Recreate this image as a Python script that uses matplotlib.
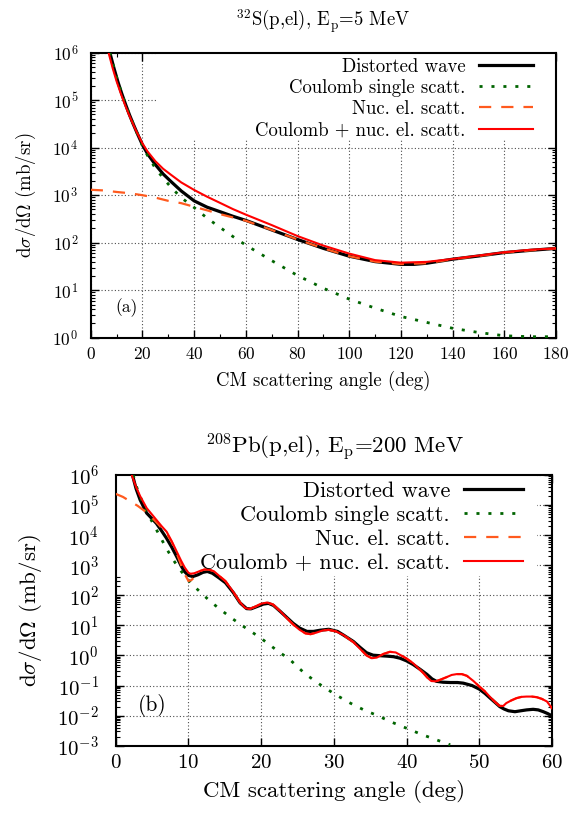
import matplotlib
matplotlib.use("Agg")
import matplotlib.pyplot as plt
import numpy as np
from matplotlib.patches import Rectangle
from matplotlib.ticker import LogLocator, NullFormatter, MultipleLocator, NullLocator

plt.rcParams["font.family"] = "cmr10"
plt.rcParams["mathtext.fontset"] = "cm"
plt.rcParams["axes.formatter.use_mathtext"] = True

# ---- 32S(p,el) at 5 MeV: angle (deg) and cross section (mb/sr) ----
s_dw_deg = [7.4, 9, 10.5, 12, 13.5, 15, 16.5, 18, 20, 22, 25, 28, 31, 35, 40, 45, 50, 55,
            60, 70, 80, 90, 100, 110, 120, 125, 130, 140, 150, 160, 170, 180]
s_dw = [1.0e6, 4.7e5, 2.45e5, 1.38e5, 8.1e4, 4.9e4, 3.1e4, 2.0e4, 1.15e4, 7.4e3, 4.4e3,
        2.8e3, 1.95e3, 1.23e3, 7.6e2, 5.6e2, 4.5e2, 3.6e2, 2.95e2, 1.86e2, 1.17e2, 7.6e1,
        5.2e1, 4.0e1, 3.5e1, 3.5e1, 3.7e1, 4.5e1, 5.25e1, 6.2e1, 6.9e1, 7.6e1]

s_coul_deg = [7.4, 9, 10.5, 12, 13.5, 15, 16.5, 18, 20, 22, 25, 28, 31, 35, 40, 45, 50, 55,
              60, 70, 80, 90, 100, 110, 120, 130, 140, 150, 160, 170, 180]
s_coul = [1.0e6, 4.7e5, 2.45e5, 1.38e5, 8.1e4, 4.9e4, 3.1e4, 2.0e4, 1.1e4, 6.8e3, 3.7e3,
          2.3e3, 1.48e3, 8.9e2, 5.5e2, 3.3e2, 2.1e2, 1.35e2, 8.9e1, 4.2e1, 2.04e1, 1.1e1,
          6.5e0, 4.2e0, 2.8e0, 2.1e0, 1.58e0, 1.29e0, 1.1e0, 1.05e0, 1.05e0]

s_nuc_deg = [0, 5, 10, 15, 20, 25, 30, 35, 40, 45, 50, 55, 60, 70, 80, 90, 100, 110, 120,
             130, 140, 150, 160, 170, 180]
s_nuc = [1.3e3, 1.26e3, 1.17e3, 1.1e3, 1.0e3, 8.9e2, 7.6e2, 6.8e2, 5.7e2, 4.8e2, 4.0e2,
         3.4e2, 2.9e2, 1.86e2, 1.17e2, 7.6e1, 5.2e1, 4.0e1, 3.55e1, 3.7e1, 4.5e1, 5.25e1,
         6.2e1, 6.9e1, 7.6e1]

s_tot_deg = [6.9, 8.5, 10, 11.5, 13, 14.5, 16, 17.5, 20, 22, 25, 28, 31, 35, 40, 45, 50,
             55, 60, 70, 80, 90, 100, 110, 120, 130, 140, 150, 160, 170, 180]
s_tot = [1.0e6, 4.7e5, 2.5e5, 1.45e5, 8.7e4, 5.4e4, 3.5e4, 2.3e4, 1.23e4, 8.3e3, 5.2e3,
         3.6e3, 2.7e3, 1.86e3, 1.29e3, 9.3e2, 6.9e2, 5.1e2, 3.9e2, 2.35e2, 1.38e2, 8.7e1,
         5.9e1, 4.3e1, 3.8e1, 3.95e1, 4.55e1, 5.35e1, 6.3e1, 7.1e1, 7.6e1]

# ---- 208Pb(p,el) at 200 MeV ----
pb_dw_deg = [2.3, 2.8, 3.35, 4.26, 5.0, 5.6, 6.3, 7.0, 7.7, 8.4, 9.0, 9.5, 10.0, 10.6, 11.3,
             12.0, 12.6, 13.3, 14.2, 15.1, 16.2, 17.1, 18.0, 18.6, 19.4, 20.3, 21.0, 21.7,
             22.6, 23.5, 24.4, 25.3, 26.3, 27.2, 28.1, 29.3, 30.5, 31.3, 32.7, 33.6, 34.5,
             35.4, 36.4, 37.3, 38.2, 39.1, 40.0, 40.9, 41.9, 42.8, 43.5, 44.1, 45.0, 46.0,
             47.0, 47.8, 49.0, 50.0, 50.8, 51.5, 52.2, 52.8, 53.4, 54.0, 54.9, 55.7, 56.5,
             57.4, 58.1, 58.8, 59.4, 60.0]
pb_dw = [1.0e6, 3.5e5, 1.5e5, 5.4e4, 3.5e4, 2.45e4, 1.4e4, 7.8e3, 4.0e3, 1.9e3, 9.5e2,
         6.0e2, 4.6e2, 4.2e2, 4.8e2, 5.8e2, 6.2e2, 5.4e2, 3.8e2, 2.6e2, 1.2e2, 5.6e1, 3.6e1,
         3.55e1, 4.2e1, 5.1e1, 5.4e1, 4.6e1, 2.95e1, 1.86e1, 1.17e1, 8.1e0, 6.3e0, 6.3e0,
         6.9e0, 7.4e0, 6.3e0, 4.8e0, 2.9e0, 1.86e0, 1.23e0, 1.02e0, 9.8e-1, 9.5e-1, 9.1e-1,
         8.1e-1, 6.6e-1, 5.0e-1, 3.4e-1, 2.35e-1, 1.66e-1, 1.38e-1, 1.29e-1, 1.26e-1,
         1.26e-1, 1.2e-1, 1.0e-1, 7.6e-2, 5.4e-2, 3.8e-2, 2.7e-2, 2.0e-2, 1.66e-2, 1.45e-2,
         1.35e-2, 1.45e-2, 1.55e-2, 1.62e-2, 1.55e-2, 1.35e-2, 1.17e-2, 9.8e-3]

pb_coul_deg = [2.4, 3, 4, 5, 6, 7, 8, 9, 10, 11, 12, 13, 14, 15, 16, 17, 18, 19, 20, 22,
               24, 26, 28, 30, 32, 34, 36, 38, 40, 42, 44, 46]
pb_coul = [1.0e6, 3.2e5, 8.0e4, 2.8e4, 1.0e4, 3.5e3, 1.4e3, 6.3e2, 3.2e2, 1.78e2, 1.05e2,
           6.3e1, 4.0e1, 2.6e1, 1.7e1, 1.15e1, 7.8e0, 5.4e0, 3.7e0, 1.58e0, 7.1e-1,
           2.5e-1, 1.12e-1, 5.4e-2, 2.8e-2, 1.6e-2, 1.0e-2, 6.0e-3, 3.8e-3, 2.4e-3,
           1.6e-3, 1.07e-3]

pb_tot_deg = [2.2, 2.8, 3.35, 4.26, 5.0, 5.6, 6.3, 7.0, 7.7, 8.4, 9.0, 9.5, 10.0, 10.3,
              10.8, 11.5, 12.2, 12.8, 13.5, 14.2, 15.1, 16.2, 17.1, 17.8, 18.4, 19.2, 20.0,
              20.8, 21.6, 22.6, 23.5, 24.4, 25.3, 26.1, 26.8, 27.6, 28.5, 29.3, 30.3, 31.3,
              32.7, 33.6, 34.5, 35.2, 35.9, 36.8, 37.7, 38.5, 39.1, 40.0, 40.9, 41.6, 42.3,
              42.9, 43.4, 44.0, 44.6, 45.5, 46.2, 46.9, 47.6, 48.3, 49.2, 50.0, 50.8, 51.5,
              52.2, 52.8, 53.3, 53.7, 54.4, 55.1, 55.8, 56.5, 57.2, 57.9, 58.6, 59.3, 60.0]
pb_tot = [1.0e6, 4.0e5, 2.0e5, 7.9e4, 4.8e4, 3.2e4, 2.0e4, 1.3e4, 6.3e3, 2.8e3, 1.4e3,
          8.3e2, 5.6e2, 5.2e2, 5.4e2, 6.3e2, 7.2e2, 7.2e2, 6.3e2, 4.5e2, 2.95e2, 1.26e2,
          5.8e1, 3.8e1, 3.5e1, 4.2e1, 5.25e1, 5.75e1, 5.0e1, 3.0e1, 1.78e1, 1.07e1, 7.1e0,
          5.4e0, 5.1e0, 5.75e0, 6.8e0, 7.1e0, 6.3e0, 4.8e0, 2.75e0, 1.66e0, 1.0e0,
          8.1e-1, 8.5e-1, 1.12e0, 1.32e0, 1.26e0, 1.05e0, 7.9e-1, 5.5e-1, 3.8e-1, 2.6e-1,
          1.78e-1, 1.41e-1, 1.38e-1, 1.55e-1, 1.9e-1, 2.25e-1, 2.4e-1, 2.4e-1, 2.1e-1,
          1.41e-1, 9.3e-2, 6.3e-2, 4.1e-2, 2.8e-2, 2.1e-2, 2.1e-2, 2.6e-2, 3.2e-2, 3.8e-2,
          4.2e-2, 4.3e-2, 4.3e-2, 4.1e-2, 3.6e-2, 2.95e-2, 1.74e-2]

# nuclear part at small angles, beyond ~11 deg it runs under the full curve
pb_nuc_small_deg = [0, 1, 2, 3, 4, 5, 6, 7, 7.7, 8.4, 9.0, 9.5, 10.0, 10.4, 10.9]
pb_nuc_small = [2.35e5, 1.86e5, 1.32e5, 9.5e4, 6.3e4, 3.8e4, 2.1e4, 1.12e4, 6.0e3, 2.5e3,
                1.0e3, 5.0e2, 3.0e2, 3.2e2, 4.2e2]
pb_nuc_deg = pb_nuc_small_deg + [d for d in pb_tot_deg if d > 11]
pb_nuc = pb_nuc_small + [v for d, v in zip(pb_tot_deg, pb_tot) if d > 11]

labels = ["Distorted wave", "Coulomb single scatt.", "Nuc. el. scatt.",
          "Coulomb + nuc. el. scatt."]
GREEN = "#006400"
ORANGE = "#ff5a1e"
RED = "#ff0000"

fig = plt.figure(figsize=(5.72, 8.14), dpi=100)
ax1 = fig.add_axes([0.1586, 0.5851, 0.8135, 0.3502])
ax2 = fig.add_axes([0.2023, 0.0839, 0.7628, 0.3326])


def style_axes(ax, fs, xmax, xstep, xminor, ymin, ymax, ypad):
    ax.set_yscale("log")
    ax.set_xlim(0, xmax)
    ax.set_ylim(ymin, ymax)
    ax.xaxis.set_major_locator(MultipleLocator(xstep))
    if xminor:
        ax.xaxis.set_minor_locator(MultipleLocator(xminor))
    else:
        ax.xaxis.set_minor_locator(NullLocator())
    ax.yaxis.set_major_locator(LogLocator(base=10, numticks=30))
    ax.yaxis.set_minor_locator(LogLocator(base=10, subs=np.arange(2, 10), numticks=30))
    ax.yaxis.set_minor_formatter(NullFormatter())
    ax.tick_params(which="both", direction="in", top=True, right=True, labelsize=fs)
    ax.tick_params(which="major", length=6, width=1)
    ax.tick_params(axis="y", which="major", pad=ypad)
    ax.tick_params(axis="x", which="major", pad=6)
    ax.tick_params(which="minor", length=3, width=0.8)
    for sp in ax.spines.values():
        sp.set_linewidth(1.5)
    ax.set_axisbelow(True)
    ax.grid(True, which="major", linestyle=(0, (1, 2)), color="0.3", linewidth=0.8)


def draw_curves(ax, dw, coul, nuc, tot):
    ax.plot(*dw, color="black", lw=2.3, label=labels[0], zorder=3)
    ax.plot(*coul, color=GREEN, lw=2.0, linestyle=(0, (1.1, 3.2)), label=labels[1], zorder=3)
    ax.plot(*nuc, color=ORANGE, lw=1.6, linestyle=(0, (5.5, 4.5)), label=labels[2], zorder=4)
    ax.plot(*tot, color=RED, lw=1.5, label=labels[3], zorder=5)


# top panel
style_axes(ax1, 12.5, 180, 20, 10, 1, 1e6, 9)
ax1.add_patch(Rectangle((0.14, 0.695), 0.86, 0.305, transform=ax1.transAxes,
                        facecolor="white", edgecolor="none", zorder=1))
draw_curves(ax1, (s_dw_deg, s_dw), (s_coul_deg, s_coul), (s_nuc_deg, s_nuc),
            (s_tot_deg, s_tot))
ax1.legend(loc="upper right", bbox_to_anchor=(0.932, 0.929), bbox_transform=fig.transFigure,
           frameon=False, markerfirst=False, fontsize=13.5, handlelength=2.9,
           handletextpad=0.7, labelspacing=0.17, borderpad=0, borderaxespad=0)
ax1.set_xlabel("CM scattering angle (deg)", fontsize=13.5, labelpad=6)
ax1.set_ylabel(r"d$\sigma$/d$\Omega$ (mb/sr)", fontsize=13.5)
ax1.yaxis.set_label_coords(-0.113, 0.5)
ax1.text(0.078, 0.104, "(a)", transform=ax1.transAxes, fontsize=12.5, ha="center",
         va="center")
fig.text(0.5647, 1 - 21 / 814, r"$^{32}$S(p,el), E$_\mathrm{p}$=5 MeV", ha="center",
         va="center", fontsize=13.5)

# bottom panel
style_axes(ax2, 15, 60, 10, None, 1e-3, 1e6, 12)
ax2.add_patch(Rectangle((0, 0.627), 0.965, 0.373, transform=ax2.transAxes,
                        facecolor="white", edgecolor="none", zorder=1))
draw_curves(ax2, (pb_dw_deg, pb_dw), (pb_coul_deg, pb_coul), (pb_nuc_deg, pb_nuc),
            (pb_tot_deg, pb_tot))
ax2.legend(loc="upper right", bbox_to_anchor=(0.915, 0.409), bbox_transform=fig.transFigure,
           frameon=False, markerfirst=False, fontsize=16, handlelength=2.65,
           handletextpad=0.65, labelspacing=0.2, borderpad=0, borderaxespad=0)
ax2.set_xlabel("CM scattering angle (deg)", fontsize=16.5, labelpad=6)
ax2.set_ylabel(r"d$\sigma$/d$\Omega$ (mb/sr)", fontsize=16.5)
ax2.yaxis.set_label_coords(-0.165, 0.5)
ax2.text(0.083, 0.15, "(b)", transform=ax2.transAxes, fontsize=15.5, ha="center",
         va="center")
fig.text(0.585, 1 - 447 / 814, r"$^{208}$Pb(p,el), E$_\mathrm{p}$=200 MeV", ha="center",
         va="center", fontsize=16.5)

fig.savefig("out.png", dpi=100)
